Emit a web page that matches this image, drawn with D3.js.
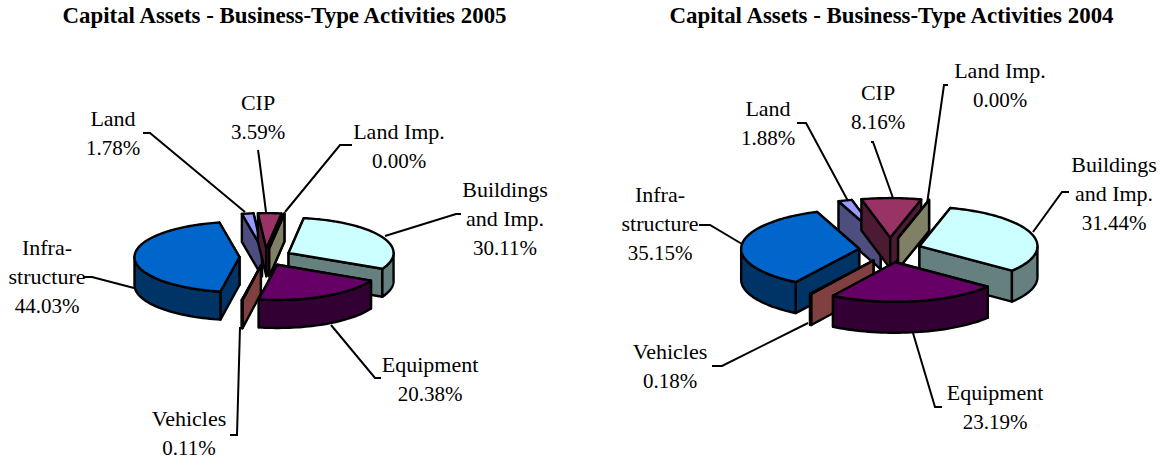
<!DOCTYPE html>
<html><head><meta charset="utf-8">
<script src="https://cdn.jsdelivr.net/npm/d3@7/dist/d3.min.js"></script>
<style>html,body{margin:0;padding:0;background:#fff}svg{display:block}text{font-family:"Liberation Serif",serif;fill:#000}</style>
</head><body><svg id="c" width="1161" height="459"></svg>
<script>
const categories=["Land Imp.","Buildings and Imp.","Equipment","Vehicles","Infrastructure","Land","CIP"];
const values2005=[0.00,30.11,20.38,0.11,44.03,1.78,3.59];
const values2004=[0.00,31.44,23.19,0.18,35.15,1.88,8.16];
const topColors=["#FFFFCC","#CCFFFF","#660066","#FF8080","#0066CC","#9999FF","#993366"];
const sideColors=["#808066","#668080","#330033","#804040","#003366","#4D4D80","#4D1A33"];
const drawOrder=[5,6,0,1,4,3,2];

const charts=[
 {title:"Capital Assets - Business-Type Activities 2005",tx:284.5,values:values2005,start:8.3,cx:265.5,cy:257,r:105,k:0.335,e:26,ek:0.335,depth:28,
  labels:[
   {lines:["Land Imp.","0.00%"],x:399,y:139,leader:[[352,145],[340,145],[285,212]]},
   {lines:["Buildings","and Imp.","30.11%"],x:505,y:197,leader:[[461,214],[456,214],[385,236]]},
   {lines:["Equipment","20.38%"],x:430,y:372,leader:[[381,378],[375,378],[331,325]]},
   {lines:["Vehicles","0.11%"],x:189,y:425.5,leader:[[230,435],[237,435],[240,327]]},
   {lines:["Infra-","structure","44.03%"],x:47,y:255,leader:[[84,277],[92,277],[134,288]]},
   {lines:["Land","1.78%"],x:113,y:126,leader:[[143,133],[150,133],[245,212]]},
   {lines:["CIP","3.59%"],x:258,y:110,leader:[[258,150],[259,157],[266,212]]}
  ]},
 {title:"Capital Assets - Business-Type Activities 2004",tx:891.5,values:values2004,start:15.2,cx:890,cy:250,r:118,k:0.335,e:31,ek:0.4,depth:31,
  labels:[
   {lines:["Land Imp.","0.00%"],x:1000,y:78,leader:[[948,85],[944,85],[927,204]]},
   {lines:["Buildings","and Imp.","31.44%"],x:1114,y:172,leader:[[1069,192],[1062,192],[1033,232]]},
   {lines:["Equipment","23.19%"],x:995,y:400,leader:[[942,407],[935,407],[913,333]]},
   {lines:["Vehicles","0.18%"],x:670,y:359,leader:[[712,366],[722,366],[808,323]]},
   {lines:["Infra-","structure","35.15%"],x:660,y:202,leader:[[699,225],[710,225],[742,244]]},
   {lines:["Land","1.88%"],x:768,y:116,leader:[[797,123],[806,123],[848,201]]},
   {lines:["CIP","8.16%"],x:878,y:100,leader:[[871,142],[873,142],[893,198]]}
  ]}
];

const svg=d3.select("#c");
const rad=d3.scaleLinear().domain([0,360]).range([0,2*Math.PI]);
const line=d3.line();
const closed=d3.line().curve(d3.curveLinearClosed);

charts.forEach(ch=>{
  const g=svg.append("g");
  g.append("text").text(ch.title).attr("x",ch.tx).attr("y",23).attr("text-anchor","middle")
   .attr("font-size",22.9).attr("font-weight","bold");

  const pie=d3.pie().value(d=>d).sort(null)
    .startAngle(rad(ch.start)).endAngle(rad(ch.start)+2*Math.PI);
  const arcs=pie(ch.values);
  const px=(a,ox,oy,rr,dz=0)=>[ox+rr*Math.sin(a),oy-rr*ch.k*Math.cos(a)+dz];

  drawOrder.forEach(i=>{
    const s=arcs[i],m=(s.startAngle+s.endAngle)/2;
    const ox=ch.cx+ch.e*Math.sin(m),oy=ch.cy-ch.e*ch.ek*Math.cos(m);
    const style=(p,f)=>p.attr("fill",f).attr("stroke","#000").attr("stroke-width",2.4).attr("stroke-linejoin","round");
    const a0=s.startAngle,a1=s.endAngle;
    const p0=px(a0,ox,oy,ch.r),p1=px(a1,ox,oy,ch.r);
    const d=ch.depth;
    [p0,p1].sort((u,v)=>u[1]-v[1]).forEach(q=>{
      style(g.append("path").attr("d",closed([[ox,oy],q,[q[0],q[1]+d],[ox,oy+d]])),sideColors[i]);
    });
    const lo=Math.max(a0,Math.PI/2),hi=Math.min(a1,Math.PI*1.5);
    if(hi>lo){
      const steps=d3.range(0,41).map(t=>lo+(hi-lo)*t/40);
      const top=steps.map(a=>px(a,ox,oy,ch.r));
      const bot=steps.map(a=>px(a,ox,oy,ch.r,d)).reverse();
      style(g.append("path").attr("d",closed(top.concat(bot))),sideColors[i]);
    }
    const n=Math.max(2,Math.ceil((a1-a0)*40));
    const rim=d3.range(0,n+1).map(t=>px(a0+(a1-a0)*t/n,ox,oy,ch.r));
    style(g.append("path").attr("d",closed([[ox,oy]].concat(rim))),topColors[i]);
  });

  ch.labels.forEach(l=>{
    g.append("path").attr("d",line(l.leader)).attr("fill","none").attr("stroke","#000").attr("stroke-width",2);
    const t=g.append("text").attr("text-anchor","middle");
    l.lines.forEach((s,j)=>t.append("tspan").attr("x",l.x).attr("y",l.y+j*29)
      .attr("font-size",s.endsWith("%")?21:22).text(s));
  });
});
</script></body></html>
